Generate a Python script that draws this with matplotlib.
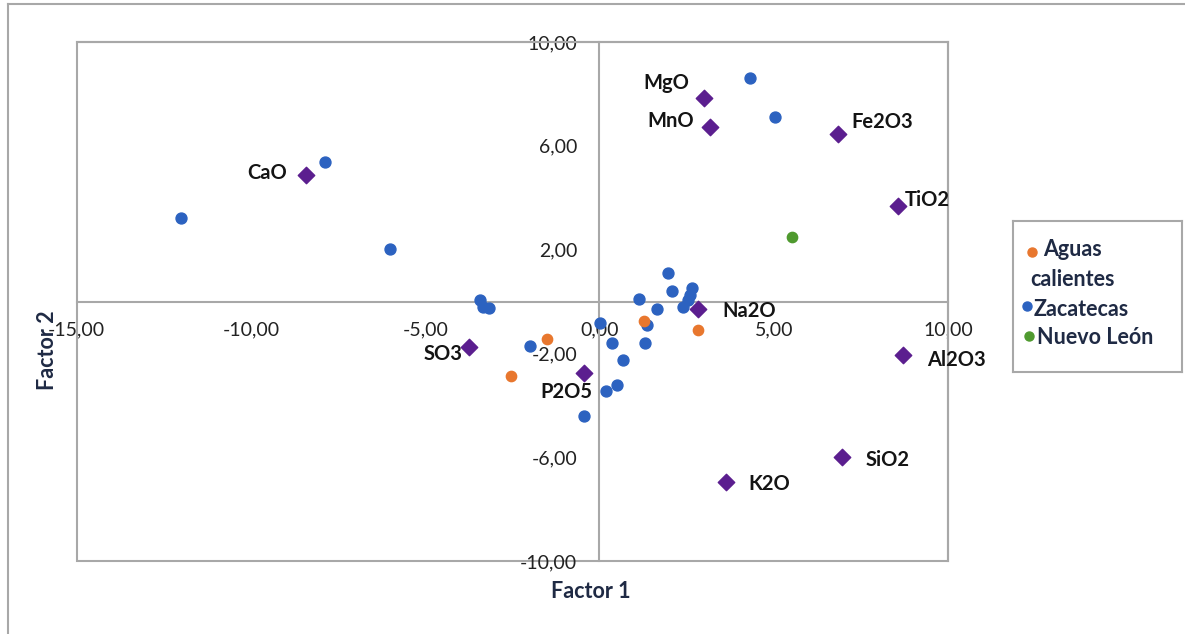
import matplotlib
matplotlib.use("Agg")
import matplotlib.pyplot as plt
from matplotlib.lines import Line2D
from matplotlib.patches import Rectangle

plt.rcParams['font.family'] = ['Lato', 'DejaVu Sans']

# Puntuaciones de las muestras por estado
zac_x = [-12.01, -7.88, -6.01, 4.32, 5.04, 1.97, 2.09, 2.66, 2.60, 2.55, 2.40, 1.14, 1.66,
         1.35, 1.30, 0.67, 0.36, 0.02, 0.49, 0.18, -0.44, -1.99, -3.43, -3.35, -3.16]
zac_y = [3.22, 5.38, 2.02, 8.61, 7.11, 1.11, 0.42, 0.53, 0.25, 0.06, -0.22, 0.08, -0.28,
         -0.91, -1.59, -2.25, -1.59, -0.84, -3.22, -3.44, -4.40, -1.71, 0.06, -0.20, -0.26]
ags_x = [1.28, 2.82, -1.52, -2.54]
ags_y = [-0.75, -1.10, -1.46, -2.86]
nl_x = [5.52]
nl_y = [2.49]

# Cargas de los óxidos
oxidos = ['MgO', 'MnO', 'Fe2O3', 'TiO2', 'CaO', 'Na2O', 'SO3', 'P2O5', 'Al2O3', 'SiO2', 'K2O']
ox_x = [3.01, 3.17, 6.85, 8.56, -8.43, 2.83, -3.74, -0.44, 8.71, 6.96, 3.63]
ox_y = [7.85, 6.74, 6.45, 3.69, 4.87, -0.29, -1.74, -2.77, -2.06, -5.99, -6.96]

# desplazamiento de cada etiqueta (pixeles) y alineacion
etiq = {
    'MgO': (-15, 15, 'right'), 'MnO': (-16, 6, 'right'), 'Fe2O3': (13, 12, 'left'),
    'TiO2': (7, 6, 'left'), 'CaO': (-19, 2, 'right'), 'Na2O': (24, -2, 'left'),
    'SO3': (-7, -7, 'right'), 'P2O5': (8, -19, 'right'), 'Al2O3': (24, -5, 'left'),
    'SiO2': (24, -3, 'left'), 'K2O': (22, -2, 'left'),
}

c_azul = '#2C62C0'
c_naranja = '#E8772E'
c_verde = '#4F9A2F'
c_morado = '#5B1E8F'
c_gris = '#A8A8A8'
c_titulo = '#1F2A44'

fig = plt.figure(figsize=(11.85, 6.34), dpi=100)
ax = fig.add_axes([76.7 / 1185, 1 - 561 / 634, 871.3 / 1185, 519 / 634])

ax.scatter(zac_x, zac_y, s=62, color=c_azul, zorder=3)
ax.scatter(ags_x, ags_y, s=55, color=c_naranja, zorder=4)
ax.scatter(nl_x, nl_y, s=55, color=c_verde, zorder=4)
ax.scatter(ox_x, ox_y, s=70, marker='D', color=c_morado, zorder=5)

for nom, x, y in zip(oxidos, ox_x, ox_y):
    dx, dy, ha = etiq[nom]
    ax.annotate(nom, (x, y), xytext=(dx, dy), textcoords='offset pixels',
                ha=ha, va='center', fontsize=14.5, fontweight='bold', color='#141414')

ax.set_xlim(-15, 10)
ax.set_ylim(-10, 10)
ax.set_xticks([-15, -10, -5, 0, 5, 10])
ax.set_yticks([-10, -6, -2, 2, 6, 10])
fmt = lambda v: f'{v:.2f}'.replace('.', ',')
ax.set_xticklabels([fmt(v) for v in ax.get_xticks()])
ax.set_yticklabels([fmt(v) for v in ax.get_yticks()])

# ejes cruzando en el origen, con marco alrededor
ax.spines['left'].set_position(('data', 0))
ax.spines['bottom'].set_position(('data', 0))
for s in ax.spines.values():
    s.set_color(c_gris)
    s.set_linewidth(1.5)
ax.add_patch(Rectangle((0, 0), 1, 1, transform=ax.transAxes, fill=False,
                       ec=c_gris, lw=1.5, clip_on=False, zorder=1))
ax.tick_params(axis='both', length=0, labelsize=14, labelcolor='#222222')
ax.tick_params(axis='x', pad=14)
ax.tick_params(axis='y', pad=16)

fig.text(591 / 1185, 1 - 591 / 634, 'Factor 1', ha='center', va='center',
         fontsize=15.5, fontweight='bold', color=c_titulo)
fig.text(48 / 1185, 1 - 350 / 634, 'Factor 2', ha='center', va='center', rotation=90,
         fontsize=15.5, fontweight='bold', color=c_titulo)

# leyenda
lax = fig.add_axes([1013 / 1185, 1 - 372 / 634, 169 / 1185, 151 / 634])
lax.set_xlim(1013, 1182)
lax.set_ylim(372, 221)
lax.set_xticks([])
lax.set_yticks([])
for s in lax.spines.values():
    s.set_color(c_gris)
    s.set_linewidth(1.5)
leyenda = [(c_naranja, 1032, 252, 'Aguas', 1043, 250), (c_azul, 1027, 306, 'Zacatecas', 1034, 309),
           (c_verde, 1029, 336, 'Nuevo León', 1037, 338)]
for col, mx, my, txt, tx, ty in leyenda:
    lax.plot(mx, my, 'o', ms=6.5, color=col)
    lax.text(tx, ty, txt, ha='left', va='center', fontsize=15.5,
             fontweight='bold', color=c_titulo)
lax.text(1030, 280, 'calientes', ha='left', va='center', fontsize=15.5,
         fontweight='bold', color=c_titulo)

# marco exterior
fig.add_artist(Line2D([8 / 1185, 8 / 1185], [0, 1 - 4 / 634], color=c_gris, lw=1.5))
fig.add_artist(Line2D([8 / 1185, 1], [1 - 4 / 634, 1 - 4 / 634], color=c_gris, lw=1.5))

fig.savefig('out.png', dpi=100)
